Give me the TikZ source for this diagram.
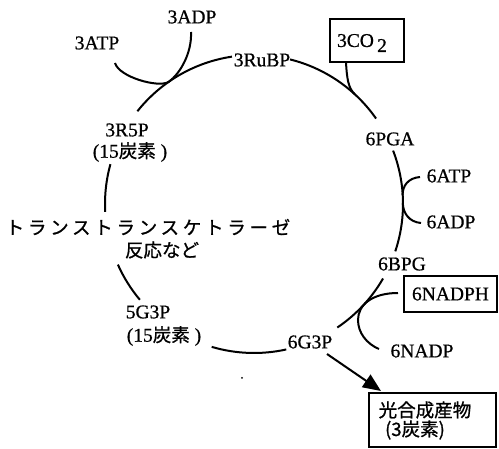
\documentclass[tikz,border=0pt]{standalone}
\usepackage{fontspec}
\setmainfont{Liberation Serif}[FakeBold=0.7]
\newfontfamily\jp[Scale=0.95,FakeBold=0.9]{Noto Sans CJK JP}
\newfontfamily\jpls[Scale=0.95,FakeBold=0.9,LetterSpace=20]{Noto Sans CJK JP}
\usetikzlibrary{arrows.meta,calc}
\newcommand\cycarc[2]{\draw ([shift={(#1:149pt)}]c) arc[start angle=#1, end angle=#2, radius=149pt];}
\begin{document}
\begin{tikzpicture}[x=1pt,y=-1pt,line width=2pt,
  font=\fontsize{19.5}{22}\selectfont,
  lbl/.style={inner sep=0pt},
  boxn/.style={draw,line width=2pt,inner sep=0pt}]
\useasboundingbox (0,0) rectangle (499,449);
\coordinate (c) at (254,204);
% labels
\node[lbl] (adp3) at (192,17) {3ADP};
\node[lbl] (atp3) at (97,43) {3ATP};
\node[lbl] (rubp) at (262,60) {3RuBP};
\node[boxn,minimum width=74pt,minimum height=43pt] (co2) at (367,40.5) {};
\node[lbl] (co2t) at (362,43) {3CO\,\raisebox{-5pt}{2}};
\node[lbl] (pga) at (390,139) {6PGA};
\node[lbl] (atp6) at (449,176) {6ATP};
\node[lbl] (adp6) at (451,222) {6ADP};
\node[lbl] (bpg) at (402,264) {6BPG};
\node[boxn,minimum width=93pt,minimum height=36pt] (nadph) at (450.5,294) {6NADPH};
\node[lbl] (nadp) at (422,351) {6NADP};
\node[lbl] (g3p6) at (310,342) {6G3P};
\node[lbl] (g3p5) at (148,312) {5G3P};
\node[lbl] (c15b) at (164,336) {(15{\jp 炭素} )};
\node[lbl] (r5p) at (127,130) {3R5P};
\node[lbl] (c15a) at (130,152) {(15{\jp 炭素} )};
\node[lbl] (trans) at (148,227) {\jpls トランストランスケトラーゼ};
\node[lbl] (hanno) at (162,250) {\jp 反応など};
\node[boxn,minimum width=127pt,minimum height=54pt] (prod) at (432.5,420) {};
\node[lbl] (prod1) at (425,410) {\jp 光合成産物};
\node[lbl] (prod2) at (415,430) {\jp (3炭素)};
% cycle arcs
\cycarc{76}{35}
\cycarc{21}{-18.5}
\cycarc{-30}{-56}
\cycarc{-77.5}{-106.5}
\cycarc{220}{204}
\cycarc{183}{164.5}
\cycarc{141.5}{98.5}
% side branches
\coordinate (p3) at (168.5,82);
\draw (115,63) .. controls (119,77) and (158,88) .. (p3);
\draw (191,32) .. controls (192,52) and (181,73) .. (p3);
\draw ($(co2.south west)+(17,0)$) .. controls (347,78) and (348,88) .. (355,94.5);
\draw (420,177) .. controls (408,178) and (402.5,186) .. (402.6,195);
\draw (402.8,203) .. controls (403,213) and (409,222) .. (421,223);
\draw ($(nadph.west)+(-5,-1)$) .. controls (372,293) and (358,305) .. (358,320)
      .. controls (358,333) and (367,344) .. (379,349);
% output arrow
\coordinate (a1) at (327,354);
\coordinate (a2) at (381,391);
\draw[-{Triangle[length=18pt,width=15pt]}] (a1) -- (a2);
\fill (242,378) circle[radius=1pt];
\end{tikzpicture}
\end{document}
